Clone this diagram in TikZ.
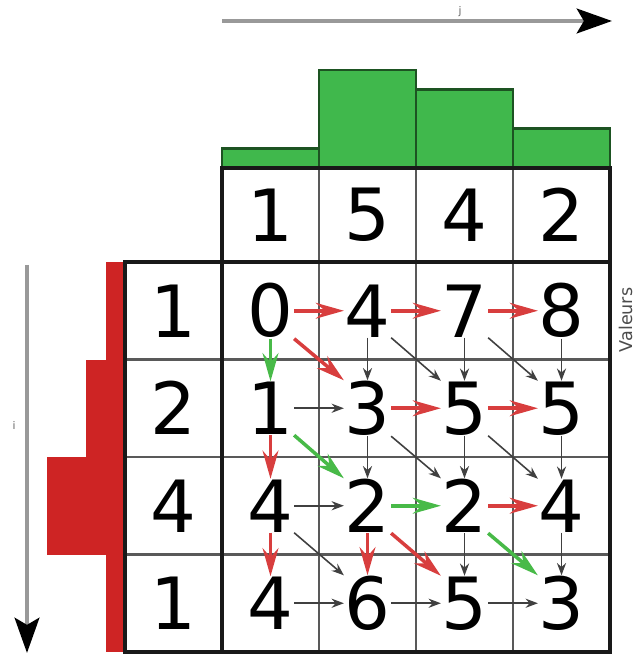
\documentclass[tikz,border=0pt]{standalone}
\usepackage{fontspec}
\setmainfont{DejaVu Sans}
\usetikzlibrary{arrows.meta}
\definecolor{barred}{RGB}{206,36,36}
\definecolor{bargreen}{RGB}{64,184,76}
\definecolor{linkred}{RGB}{216,62,62}
\definecolor{linkgreen}{RGB}{72,186,72}
\tikzset{
  val/.style      = {inner sep=0pt, font=\fontsize{20.5}{20}\selectfont},
  lnk/.style      = {-{Stealth[length=3.5pt,width=2.6pt]}, black!75, line width=0.45pt},
  lnkred/.style   = {-{Stealth[length=8pt,width=4.5pt]}, linkred, line width=1pt},
  lnkgreen/.style = {-{Stealth[length=8pt,width=4.5pt]}, linkgreen, line width=1pt},
  gridin/.style   = {draw=black!65, line width=0.6pt},
  gridout/.style  = {draw=black!90, line width=0.9pt},
  axisarr/.style  = {-{Stealth[black,length=10pt,width=7pt,inset=2pt]}, black!40, line width=1.3pt},
  histgreen/.style= {fill=bargreen, draw=bargreen!45!black, line width=0.8pt},
  histred/.style  = {fill=barred, draw=none},
  tinylbl/.style  = {inner sep=0pt, font=\fontsize{3}{3}\selectfont, black!60},
}
\begin{document}
\begin{tikzpicture}
\useasboundingbox (0,0) rectangle (6.37,-6.59);

% === histogrammes ===
\foreach \v [count=\c] in {1,5,4,2}
  \draw[histgreen] ({2.22+0.97*(\c-1)},-1.68) rectangle ({2.22+0.97*\c},{-1.68+0.196*\v});
\foreach \v [count=\r] in {1,2,4,1}
  \fill[histred] ({1.25-0.195*\v},{-2.62-0.975*(\r-1)}) rectangle (1.25,{-2.62-0.975*\r});

% === grille ===
\foreach \c in {1,2,3}
  \draw[gridin] ({2.22+0.97*\c},-1.68) -- ({2.22+0.97*\c},-6.52);
\foreach \r in {1,2,3}
  \draw[gridin] (1.25,{-2.62-0.975*\r}) -- (6.10,{-2.62-0.975*\r});
\draw[gridout] (2.22,-1.68) rectangle (6.10,-6.52);
\draw[gridout] (1.25,-2.62) rectangle (6.10,-6.52);

% en-tetes
\foreach \v [count=\c] in {1,5,4,2}
  \node[val] (h-\c) at ({2.22+0.97*(\c-0.5)},-2.15) {\v};
\foreach \v [count=\r] in {1,2,4,1}
  \node[val] (r-\r) at (1.735,{-2.62-0.975*(\r-0.5)}) {\v};

% valeurs cumulees
\foreach \row [count=\r] in {{0,4,7,8},{1,3,5,5},{4,2,2,4},{4,6,5,3}}
  \foreach \v [count=\c] in \row
    \node[val] (v-\r-\c) at ({2.22+0.97*(\c-0.5)},{-2.62-0.975*(\r-0.5)}) {\v};

% === liens ===
% horizontaux
\foreach \a/\b/\s in {1-1/1-2/lnkred, 1-2/1-3/lnkred, 1-3/1-4/lnkred,
                      2-1/2-2/lnk, 2-2/2-3/lnkred, 2-3/2-4/lnkred,
                      3-1/3-2/lnk, 3-2/3-3/lnkgreen, 3-3/3-4/lnkred,
                      4-1/4-2/lnk, 4-2/4-3/lnk, 4-3/4-4/lnk}
  \draw[\s] (v-\a.east) -- (v-\b.west);
% verticaux
\foreach \a/\b/\s in {1-1/2-1/lnkgreen, 1-2/2-2/lnk, 1-3/2-3/lnk, 1-4/2-4/lnk,
                      2-1/3-1/lnkred, 2-2/3-2/lnk, 2-3/3-3/lnk, 2-4/3-4/lnk,
                      3-1/4-1/lnkred, 3-2/4-2/lnkred, 3-3/4-3/lnk, 3-4/4-4/lnk}
  \draw[\s] (v-\a.south) -- (v-\b.north);
% diagonaux
\foreach \a/\b/\s in {1-1/2-2/lnkred, 1-2/2-3/lnk, 1-3/2-4/lnk,
                      2-1/3-2/lnkgreen, 2-2/3-3/lnk, 2-3/3-4/lnk,
                      3-1/4-2/lnk, 3-2/4-3/lnkred, 3-3/4-4/lnkgreen}
  \draw[\s] (v-\a.south east) -- (v-\b.north west);

% === axes ===
\coordinate (top-a) at (2.22,-0.21);
\coordinate (top-b) at (6.12,-0.21);
\draw[axisarr] (top-a) -- (top-b);
\node[tinylbl] (top-l) at (4.60,-0.12) {j};

\coordinate (left-a) at (0.27,-2.65);
\coordinate (left-b) at (0.27,-6.53);
\draw[axisarr] (left-a) -- (left-b);
\node[tinylbl] (left-l) at (0.14,-4.25) {i};

\node[inner sep=0pt, font=\fontsize{5}{6}\selectfont, black!70, rotate=90] (vals) at (6.26,-3.20) {Valeurs};

\end{tikzpicture}
\end{document}
